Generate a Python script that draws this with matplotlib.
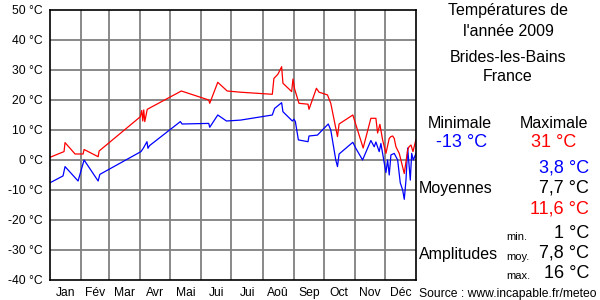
import matplotlib
matplotlib.use("Agg")
import matplotlib.pyplot as plt

plt.rcParams['font.family'] = ['Liberation Sans', 'DejaVu Sans']

# jours de l'annee (0 = 1er janvier) et temperatures relevees
max_days = [0, 14, 15, 25, 33, 34, 48, 49, 90, 91.5, 92.5, 93.5, 94.5, 97, 131,
            158.3, 159.3, 167.3, 176.7, 190, 221.7, 223.3, 227.3, 231, 232.3, 241,
            242.3, 244, 248.3, 257.3, 258.3, 265.7, 268.3, 276.7, 280, 281.7, 285,
            286.7, 288.3, 302, 312.3, 320, 325, 326.7, 329, 331.7, 335, 338.3, 340,
            341.7, 343.3, 345, 348.3, 353.3, 356.7, 358, 360, 362, 365]
max_vals = [0.9, 2.8, 5.8, 2.0, 2.0, 3.5, 1.1, 3.0, 14.4, 16.5, 13.0, 16.7, 12.8, 16.9, 23.0,
            20.0, 18.9, 25.9, 23.0, 22.6, 21.9, 27.2, 28.6, 31.1, 25.6, 22.8,
            27.0, 23.6, 18.9, 18.6, 16.9, 23.9, 22.6, 21.7, 18.9, 16.1, 10.6,
            7.8, 12.0, 15.0, 4.0, 13.9, 13.9, 9.0, 11.9, 6.7, 2.2, 7.2, 7.8,
            8.0, 7.2, 4.4, 2.2, -4.5, 3.3, 4.4, 5.0, 2.8, 6.9]

min_days = [0, 13, 15, 28, 34, 48, 49.7, 90.7, 93, 96.7, 97.7, 99.3, 130, 131.7,
            158.3, 159.3, 167.3, 176, 190, 221.7, 224, 231, 232.3, 241.7, 243.3,
            244.7, 247.7, 257.3, 258.3, 266.7, 277.5, 280, 285, 286.7, 288.3, 302,
            305, 311.7, 320, 323.3, 325, 328.3, 330, 331.7, 335, 336.7, 338.3, 340,
            343.3, 346.7, 349.3, 351.7, 353.3, 355, 356.7, 359.3, 360.7, 362.3, 365]
min_vals = [-7.6, -5.3, -2.2, -7.0, 0.0, -7.0, -4.8, 2.8, 3.9, 6.1, 3.9, 4.8, 12.8, 12.0,
            12.2, 10.9, 15.0, 13.0, 13.3, 15.0, 17.2, 19.1, 16.1, 13.0, 13.6,
            12.8, 6.7, 6.1, 8.0, 8.3, 12.0, 10.0, 0.0, -2.2, 2.0, 5.9,
            3.9, 0.0, 6.5, 4.4, 6.0, 2.8, 5.5, 2.2, -4.2, 0.0, -5.0, 1.7,
            2.2, 0.0, -7.6, -10.0, -13.1, -6.7, 4.0, -6.7, 2.2, 0.0, 2.2]

month_starts = [0, 31, 59, 90, 120, 151, 181, 212, 243, 273, 304, 334, 365]
month_labels = ["Jan", "Fév", "Mar", "Avr", "Mai", "Jui", "Jui", "Aoû",
                "Sep", "Oct", "Nov", "Déc"]
y_ticks = [50, 40, 30, 20, 10, 0, -10, -20, -30, -40]

fig = plt.figure(figsize=(6, 3), dpi=100)
ax = fig.add_axes([50 / 600, 20 / 300, 366 / 600, 270 / 300])

ax.plot(min_days, min_vals, color="#0000ff", lw=0.9)
ax.plot(max_days, max_vals, color="#ff0000", lw=0.9)

ax.set_xlim(0, 365)
ax.set_ylim(-40, 50)
for d in month_starts[1:-1]:
    ax.axvline(d, color="#808080", lw=1.3, zorder=0)
for v in y_ticks[1:-1]:
    ax.axhline(v, color="#808080", lw=1.3, zorder=0)

ax.set_yticks(y_ticks)
ax.set_yticklabels(["%d °C" % v for v in y_ticks], fontsize=8.7)
mids = [(month_starts[i] + month_starts[i + 1]) / 2 for i in range(12)]
ax.set_xticks(mids)
ax.set_xticklabels(month_labels, fontsize=8.7)
ax.tick_params(length=0, pad=5)
for s in ax.spines.values():
    s.set_color("black")
    s.set_linewidth(1.2)


def txt(x, y, s, size=11.5, color="black", ha="center", va="center"):
    fig.text(x / 600, 1 - y / 300, s, fontsize=size, color=color, ha=ha, va=va)


txt(508, 10, "Températures de")
txt(508, 31, "l'année 2009")
txt(508, 58, "Brides-les-Bains")
txt(508, 76, "France")

txt(460, 124, "Minimale")
txt(554, 124, "Maximale")
txt(462, 142, "-13 °C", size=13, color="#0000ff")
txt(554, 142, "31 °C", size=13, color="#ff0000")

txt(589, 168, "3,8 °C", size=13, color="#0000ff", ha="right")
txt(456, 189, "Moyennes")
txt(589, 188, "7,7 °C", size=13, ha="right")
txt(589, 209, "11,6 °C", size=13, color="#ff0000", ha="right")

txt(506, 240, "min.", size=8, ha="left", va="baseline")
txt(589, 233, "1 °C", size=13, ha="right")
txt(459, 254, "Amplitudes")
txt(506, 260, "moy.", size=8, ha="left", va="baseline")
txt(589, 253, "7,8 °C", size=13, ha="right")
txt(506, 279, "max.", size=8, ha="left", va="baseline")
txt(589, 273, "16 °C", size=13, ha="right")

txt(508, 294, "Source : www.incapable.fr/meteo", size=8.7)

fig.savefig("out.png", dpi=100)
